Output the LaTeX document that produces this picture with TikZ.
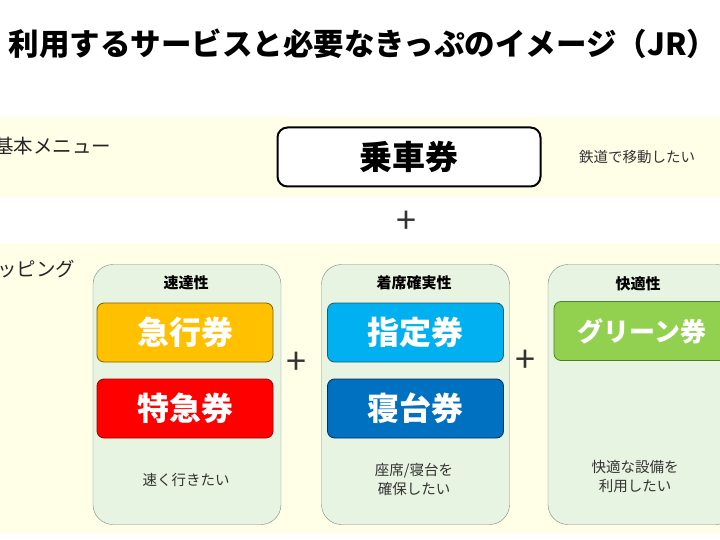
\documentclass[tikz,border=0pt]{standalone}
\usepackage{fontspec}
\setmainfont{Noto Sans CJK JP}
\definecolor{bandyellow}{RGB}{255,255,232}
\definecolor{groupgreen}{RGB}{232,244,226}
\definecolor{groupline}{RGB}{120,135,135}
\definecolor{expressfill}{RGB}{255,192,0}
\definecolor{expressline}{RGB}{127,96,0}
\definecolor{limitedfill}{RGB}{255,0,0}
\definecolor{limitedline}{RGB}{160,0,0}
\definecolor{reservedfill}{RGB}{0,176,240}
\definecolor{reservedline}{RGB}{30,90,120}
\definecolor{berthfill}{RGB}{0,112,192}
\definecolor{berthline}{RGB}{0,48,96}
\definecolor{greenfill}{RGB}{146,208,80}
\definecolor{greenline}{RGB}{80,125,45}

\begin{document}
\begin{tikzpicture}[x=1pt, y=-1pt,
  group/.style={draw=groupline, fill=groupgreen, rounded corners=20pt, minimum width=188pt, minimum height=260pt},
  ticket/.style={rounded corners=7pt, minimum width=176pt, minimum height=59pt, line width=0.8pt, text=white, font=\fontsize{32}{32}\selectfont\bfseries},
  heading/.style={font=\fontsize{15}{15}\selectfont\bfseries},
  remark/.style={font=\fontsize{14.5}{19}\selectfont, align=center, text=black!80},
  plus/.style={font=\fontsize{36}{36}\selectfont, text=black!80}]
\useasboundingbox (0, 0) rectangle (720, 540);
\clip (0, 0) rectangle (720, 540);

% background bands
\fill[bandyellow] (0, 117) rectangle (720, 197);
\fill[bandyellow] (0, 244) rectangle (720, 533);

\node[anchor=west, font=\fontsize{30.5}{30}\selectfont\bfseries] (title) at (5, 44) {利用するサービスと必要なきっぷのイメージ（JR）};

% basic menu
\node[anchor=east, font=\fontsize{19.5}{19}\selectfont, text=black!85] (basic) at (115, 146) {基本メニュー};
\node[draw, line width=2pt, rounded corners=10pt, fill=white, minimum width=263pt, minimum height=59pt, font=\fontsize{33}{33}\selectfont\bfseries] (ride) at (409, 157) {乗車券};
\node[remark] (move) at (637, 157) {鉄道で移動したい};
\node[plus] (p0) at (406, 222) {+};

% toppings
\node[anchor=east, font=\fontsize{19.5}{19}\selectfont, text=black!85] (topping) at (79, 269) {ッピング};

\node[group] (speed) at (187, 394.5) {};
\node[group] (seat) at (415.5, 394.5) {};
\node[group] (comfort) at (642, 394.5) {};

\node[heading] (speedh) at (186, 283) {速達性};
\node[heading] (seath) at (414, 283) {着席確実性};
\node[heading] (comforth) at (638, 284) {快適性};

\node[ticket, fill=expressfill, draw=expressline] (express) at (185, 332.5) {急行券};
\node[ticket, fill=limitedfill, draw=limitedline] (limited) at (185, 408.5) {特急券};
\node[ticket, fill=reservedfill, draw=reservedline] (reserved) at (415.5, 332.5) {指定券};
\node[ticket, fill=berthfill, draw=berthline] (berth) at (415.5, 408.5) {寝台券};
\node[ticket, fill=greenfill, draw=greenline, font=\fontsize{26}{26}\selectfont\bfseries] (green) at (642, 331) {グリーン券};

\node[remark] (fast) at (186, 480) {速く行きたい};
\node[remark] (secure) at (414, 479) {座席/寝台を\\確保したい};
\node[remark] (facility) at (635, 477) {快適な設備を\\利用したい};

\node[plus] (p1) at (296, 363) {+};
\node[plus] (p2) at (525, 361) {+};
\end{tikzpicture}
\end{document}
